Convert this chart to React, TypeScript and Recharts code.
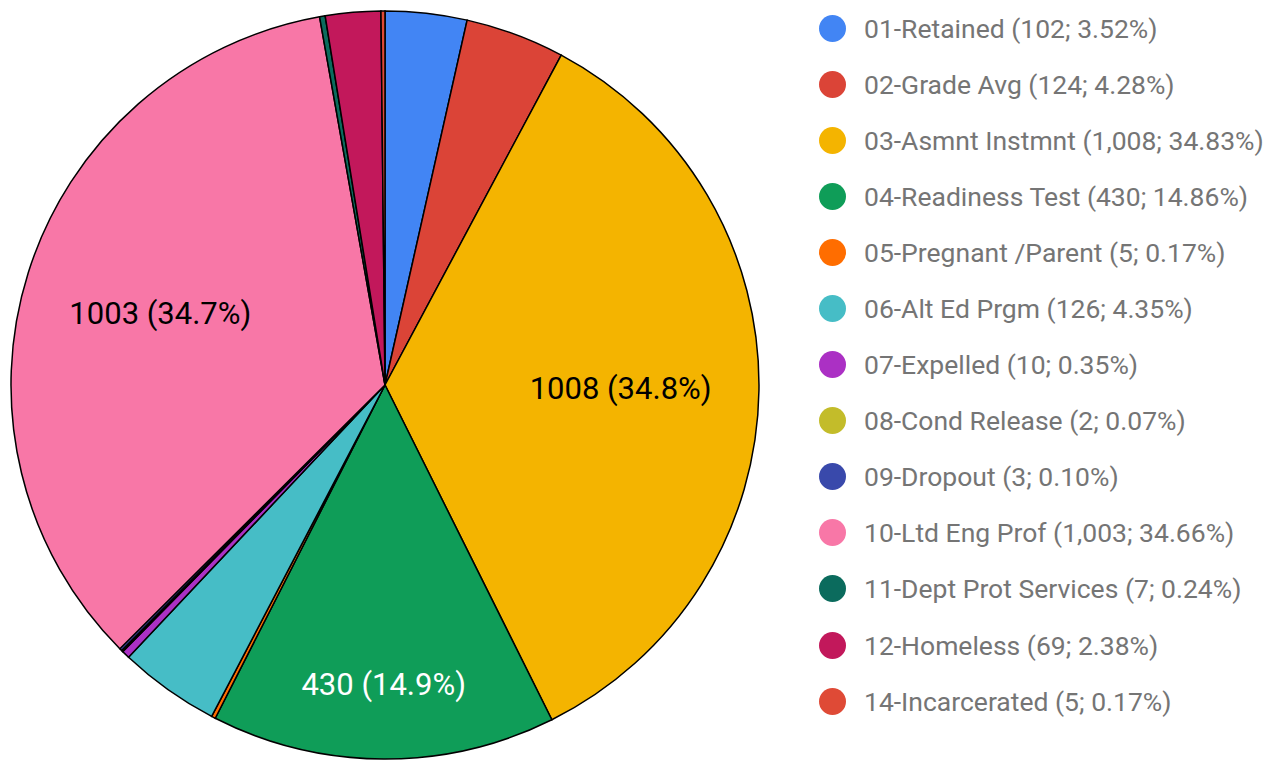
import { PieChart, Pie, Cell, Legend } from "recharts";

const categories = [
  "01-Retained",
  "02-Grade Avg",
  "03-Asmnt Instmnt",
  "04-Readiness Test",
  "05-Pregnant /Parent",
  "06-Alt Ed Prgm",
  "07-Expelled",
  "08-Cond Release",
  "09-Dropout",
  "10-Ltd Eng Prof",
  "11-Dept Prot Services",
  "12-Homeless",
  "14-Incarcerated",
];

const counts = [102, 124, 1008, 430, 5, 126, 10, 2, 3, 1003, 7, 69, 5];

const colors = [
  "#4285f4",
  "#db4437",
  "#f4b400",
  "#0f9d58",
  "#ff6d00",
  "#46bdc6",
  "#ab30c4",
  "#c3bc2a",
  "#3949ab",
  "#f877a7",
  "#0b6b5d",
  "#c2185b",
  "#df4a36",
];

const total = counts.reduce((a, b) => a + b, 0);

const data = categories.map((name, i) => ({ name, value: counts[i] }));

function textColorFor(hex: string) {
  const r = parseInt(hex.slice(1, 3), 16);
  const g = parseInt(hex.slice(3, 5), 16);
  const b = parseInt(hex.slice(5, 7), 16);
  return 0.299 * r + 0.587 * g + 0.114 * b < 128 ? "#fff" : "#000";
}

const RADIAN = Math.PI / 180;

function SliceLabel(props: any) {
  const { cx, cy, midAngle, outerRadius, percent, value, index } = props;
  if (percent < 0.1) return null;
  const r = outerRadius * (percent > 0.3 ? 0.63 : 0.8);
  const x = cx + r * Math.cos(-midAngle * RADIAN);
  const y = cy + r * Math.sin(-midAngle * RADIAN);
  return (
    <text
      x={x}
      y={y}
      textAnchor="middle"
      dominantBaseline="central"
      fill={textColorFor(colors[index])}
      fontSize={31}
      fontFamily="Roboto"
    >
      {`${value} (${(percent * 100).toFixed(1)}%)`}
    </text>
  );
}

function LegendList() {
  return (
    <div style={{ fontFamily: "Roboto", fontSize: 26.5, color: "#757575" }}>
      {data.map((d, i) => (
        <div
          key={d.name}
          style={{ height: 56.1, display: "flex", alignItems: "center", whiteSpace: "nowrap" }}
        >
          <span
            style={{
              width: 27,
              height: 27,
              borderRadius: "50%",
              background: colors[i],
              display: "inline-block",
              marginRight: 18,
              flexShrink: 0,
            }}
          />
          {`${d.name} (${d.value.toLocaleString("en-US")}; ${((d.value / total) * 100).toFixed(2)}%)`}
        </div>
      ))}
    </div>
  );
}

export default function App() {
  return (
    <div style={{ position: "absolute", left: 0, top: 0, background: "#fff" }}>
      <PieChart width={1278} height={761} margin={{ top: 0, right: 0, bottom: 0, left: 0 }}>
        <Pie
          data={data}
          dataKey="value"
          nameKey="name"
          cx={385}
          cy={385}
          outerRadius={374}
          startAngle={90}
          endAngle={-270}
          stroke="#000"
          strokeWidth={1.5}
          label={SliceLabel}
          labelLine={false}
          isAnimationActive={false}
        >
          {data.map((d, i) => (
            <Cell key={d.name} fill={colors[i]} />
          ))}
        </Pie>
        <Legend
          layout="vertical"
          content={<LegendList />}
          wrapperStyle={{ left: 819, top: 0, width: 459 }}
        />
      </PieChart>
    </div>
  );
}
